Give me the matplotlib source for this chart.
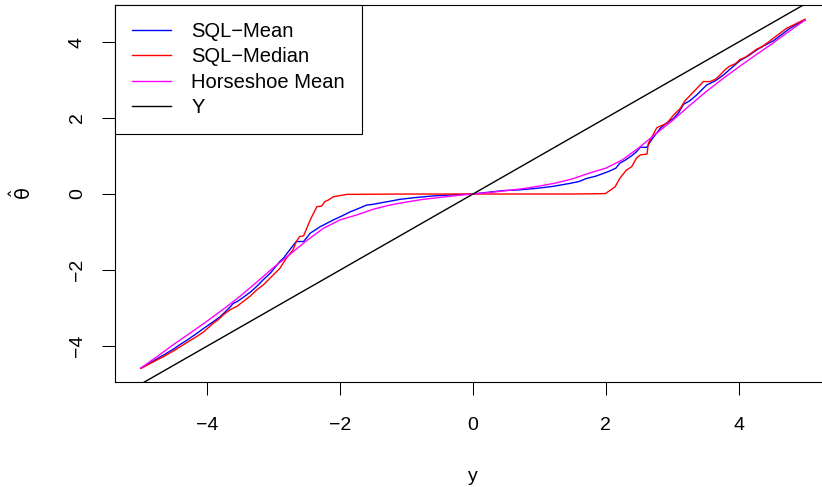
import matplotlib
matplotlib.use("Agg")
import matplotlib.pyplot as plt

# Data
sql_mean_x = [-5.0, -4.85, -4.66, -4.5, -4.41, -4.3, -4.16, -4.05, -3.91, -3.8, -3.66, -3.61,
              -3.55, -3.46, -3.35, -3.25, -3.16, -3.05, -2.91, -2.85, -2.76, -2.66, -2.61, -2.55,
              -2.45, -2.30, -2.10, -2.0, -1.85, -1.75, -1.60, -1.5, -1.35, -1.25, -1.10, -0.85,
              -0.60, -0.3, 0.0, 0.25, 0.46, 0.7, 0.96, 1.2, 1.46, 1.6, 1.71, 1.85, 1.96, 2.05,
              2.15, 2.21, 2.3, 2.4, 2.46, 2.52, 2.62, 2.67, 2.72, 2.82, 2.9, 3.02, 3.1, 3.17,
              3.27, 3.37, 3.45, 3.52, 3.65, 3.77, 3.9, 4.02, 4.15, 4.27, 4.4, 4.52, 4.65, 4.77,
              4.88, 5.0]
sql_mean_y = [-4.58, -4.43, -4.24, -4.07, -3.96, -3.84, -3.67, -3.53, -3.36, -3.22, -2.98, -2.88,
              -2.83, -2.72, -2.58, -2.42, -2.26, -2.08, -1.78, -1.68, -1.47, -1.25, -1.25, -1.25,
              -1.03, -0.86, -0.68, -0.60, -0.47, -0.40, -0.29, -0.27, -0.22, -0.19, -0.14, -0.09,
              -0.05, -0.02, 0.0, 0.05, 0.09, 0.11, 0.15, 0.20, 0.28, 0.33, 0.41, 0.47, 0.54, 0.60,
              0.68, 0.81, 0.90, 1.02, 1.11, 1.23, 1.23, 1.38, 1.50, 1.73, 1.85, 1.99, 2.15, 2.36,
              2.46, 2.61, 2.75, 2.87, 2.98, 3.13, 3.33, 3.51, 3.64, 3.79, 3.92, 4.03, 4.20, 4.36,
              4.47, 4.58]

sql_median_x = [-5.0, -4.85, -4.66, -4.5, -4.41, -4.3, -4.16, -4.05, -3.91, -3.85, -3.76, -3.66,
                -3.55, -3.46, -3.35, -3.26, -3.15, -3.06, -2.91, -2.81, -2.71, -2.66, -2.61, -2.55,
                -2.45, -2.35, -2.28, -2.23, -2.18, -2.10, -2.03, -1.90, -1.5, -1.0, -0.5, 0.0,
                0.5, 1.0, 1.5, 1.99, 2.06, 2.14, 2.21, 2.31, 2.39, 2.46, 2.52, 2.62, 2.64, 2.77,
                2.92, 3.02, 3.12, 3.19, 3.47, 3.57, 3.65, 3.72, 3.8, 3.87, 3.95, 4.02, 4.1, 4.2,
                4.27, 4.35, 4.45, 4.52, 4.6, 4.72, 4.85, 5.0]
sql_median_y = [-4.59, -4.45, -4.28, -4.12, -4.02, -3.90, -3.75, -3.62, -3.40, -3.33, -3.18, -3.05,
                -2.95, -2.83, -2.68, -2.53, -2.38, -2.22, -1.96, -1.69, -1.47, -1.25, -1.12, -1.10,
                -0.68, -0.33, -0.32, -0.20, -0.16, -0.07, -0.05, -0.01, -0.005, 0.0, 0.0, 0.0,
                0.0, 0.0, 0.0, 0.01, 0.09, 0.19, 0.41, 0.63, 0.72, 0.94, 1.03, 1.05, 1.33, 1.75,
                1.86, 2.08, 2.25, 2.45, 2.96, 2.96, 3.02, 3.13, 3.28, 3.37, 3.43, 3.54, 3.60, 3.72,
                3.81, 3.88, 4.00, 4.10, 4.20, 4.36, 4.47, 4.60]

hs_x = [-5.0, -4.75, -4.5, -4.25, -4.0, -3.75, -3.5, -3.25, -3.0, -2.75, -2.5, -2.25, -2.0,
        -1.75, -1.5, -1.25, -1.0, -0.75, -0.5, -0.25, 0.0, 0.25, 0.5, 0.75, 1.0, 1.25, 1.5,
        1.75, 2.0, 2.25, 2.5, 2.75, 3.0, 3.25, 3.5, 3.75, 4.0, 4.25, 4.5, 4.75, 5.0]
hs_y = [-4.58, -4.27, -3.95, -3.65, -3.34, -3.02, -2.68, -2.31, -1.93, -1.58, -1.22, -0.90,
        -0.68, -0.55, -0.40, -0.29, -0.21, -0.14, -0.09, -0.04, 0.0, 0.04, 0.09, 0.14, 0.21,
        0.29, 0.40, 0.55, 0.68, 0.90, 1.22, 1.58, 1.93, 2.31, 2.68, 3.02, 3.34, 3.65, 3.95,
        4.27, 4.58]

id_x = [-5, 5]
id_y = [-5, 5]

x_ticks = [-4, -2, 0, 2, 4]
y_ticks = [-4, -2, 0, 2, 4]
tick_labels = ['\u22124', '\u22122', '0', '2', '4']


def main():
  plt.rcParams['font.family'] = ['Liberation Sans', 'DejaVu Sans']
  plt.rcParams['mathtext.fontset'] = 'dejavusans'
  fs = 14
  lfs = 14.5

  fig = plt.figure(figsize=(8.22, 4.87), dpi=100)
  ax = fig.add_axes([0.1399, 0.2156, 0.8718, 0.7741])

  ax.plot(sql_mean_x, sql_mean_y, color='#0000FF', lw=1.0, label='SQL\u2212Mean')
  ax.plot(sql_median_x, sql_median_y, color='#FF0000', lw=1.0, label='SQL\u2212Median')
  ax.plot(hs_x, hs_y, color='#FF00FF', lw=1.0, label='Horseshoe Mean')
  ax.plot(id_x, id_y, color='black', lw=1.0, label='Y')

  ax.set_xlim(-5.39, 5.4)
  ax.set_ylim(-4.947, 4.974)

  ax.set_xticks(x_ticks)
  ax.set_xticklabels(tick_labels)
  ax.set_yticks(y_ticks)
  ax.set_yticklabels(tick_labels, rotation=90, va='center')
  ax.tick_params(axis='both', length=9.5, width=0.75, labelsize=fs, direction='out')
  ax.tick_params(axis='x', pad=15.5)
  ax.tick_params(axis='y', pad=11.5)

  for s in ['left', 'bottom', 'top', 'right']:
    ax.spines[s].set_linewidth(0.8)

  ax.set_xlabel('y', fontsize=fs)
  ax.xaxis.set_label_coords(0.5, -0.25)
  ax.xaxis.label.set_va('center')
  ax.set_ylabel(r'$\hat{\mathrm{\theta}}$', fontsize=fs)
  ax.yaxis.set_label_coords(-0.13, 0.5)
  ax.yaxis.label.set_va('center')

  leg = ax.legend(loc='upper left', fontsize=lfs, frameon=True, fancybox=False,
                  framealpha=1, edgecolor='black', borderaxespad=0, borderpad=0.85,
                  handlelength=1.94, handletextpad=1.0, labelspacing=0.31)
  leg.get_frame().set_linewidth(0.8)

  fig.savefig('out.png', dpi=100)


if __name__ == "__main__":
  main()
